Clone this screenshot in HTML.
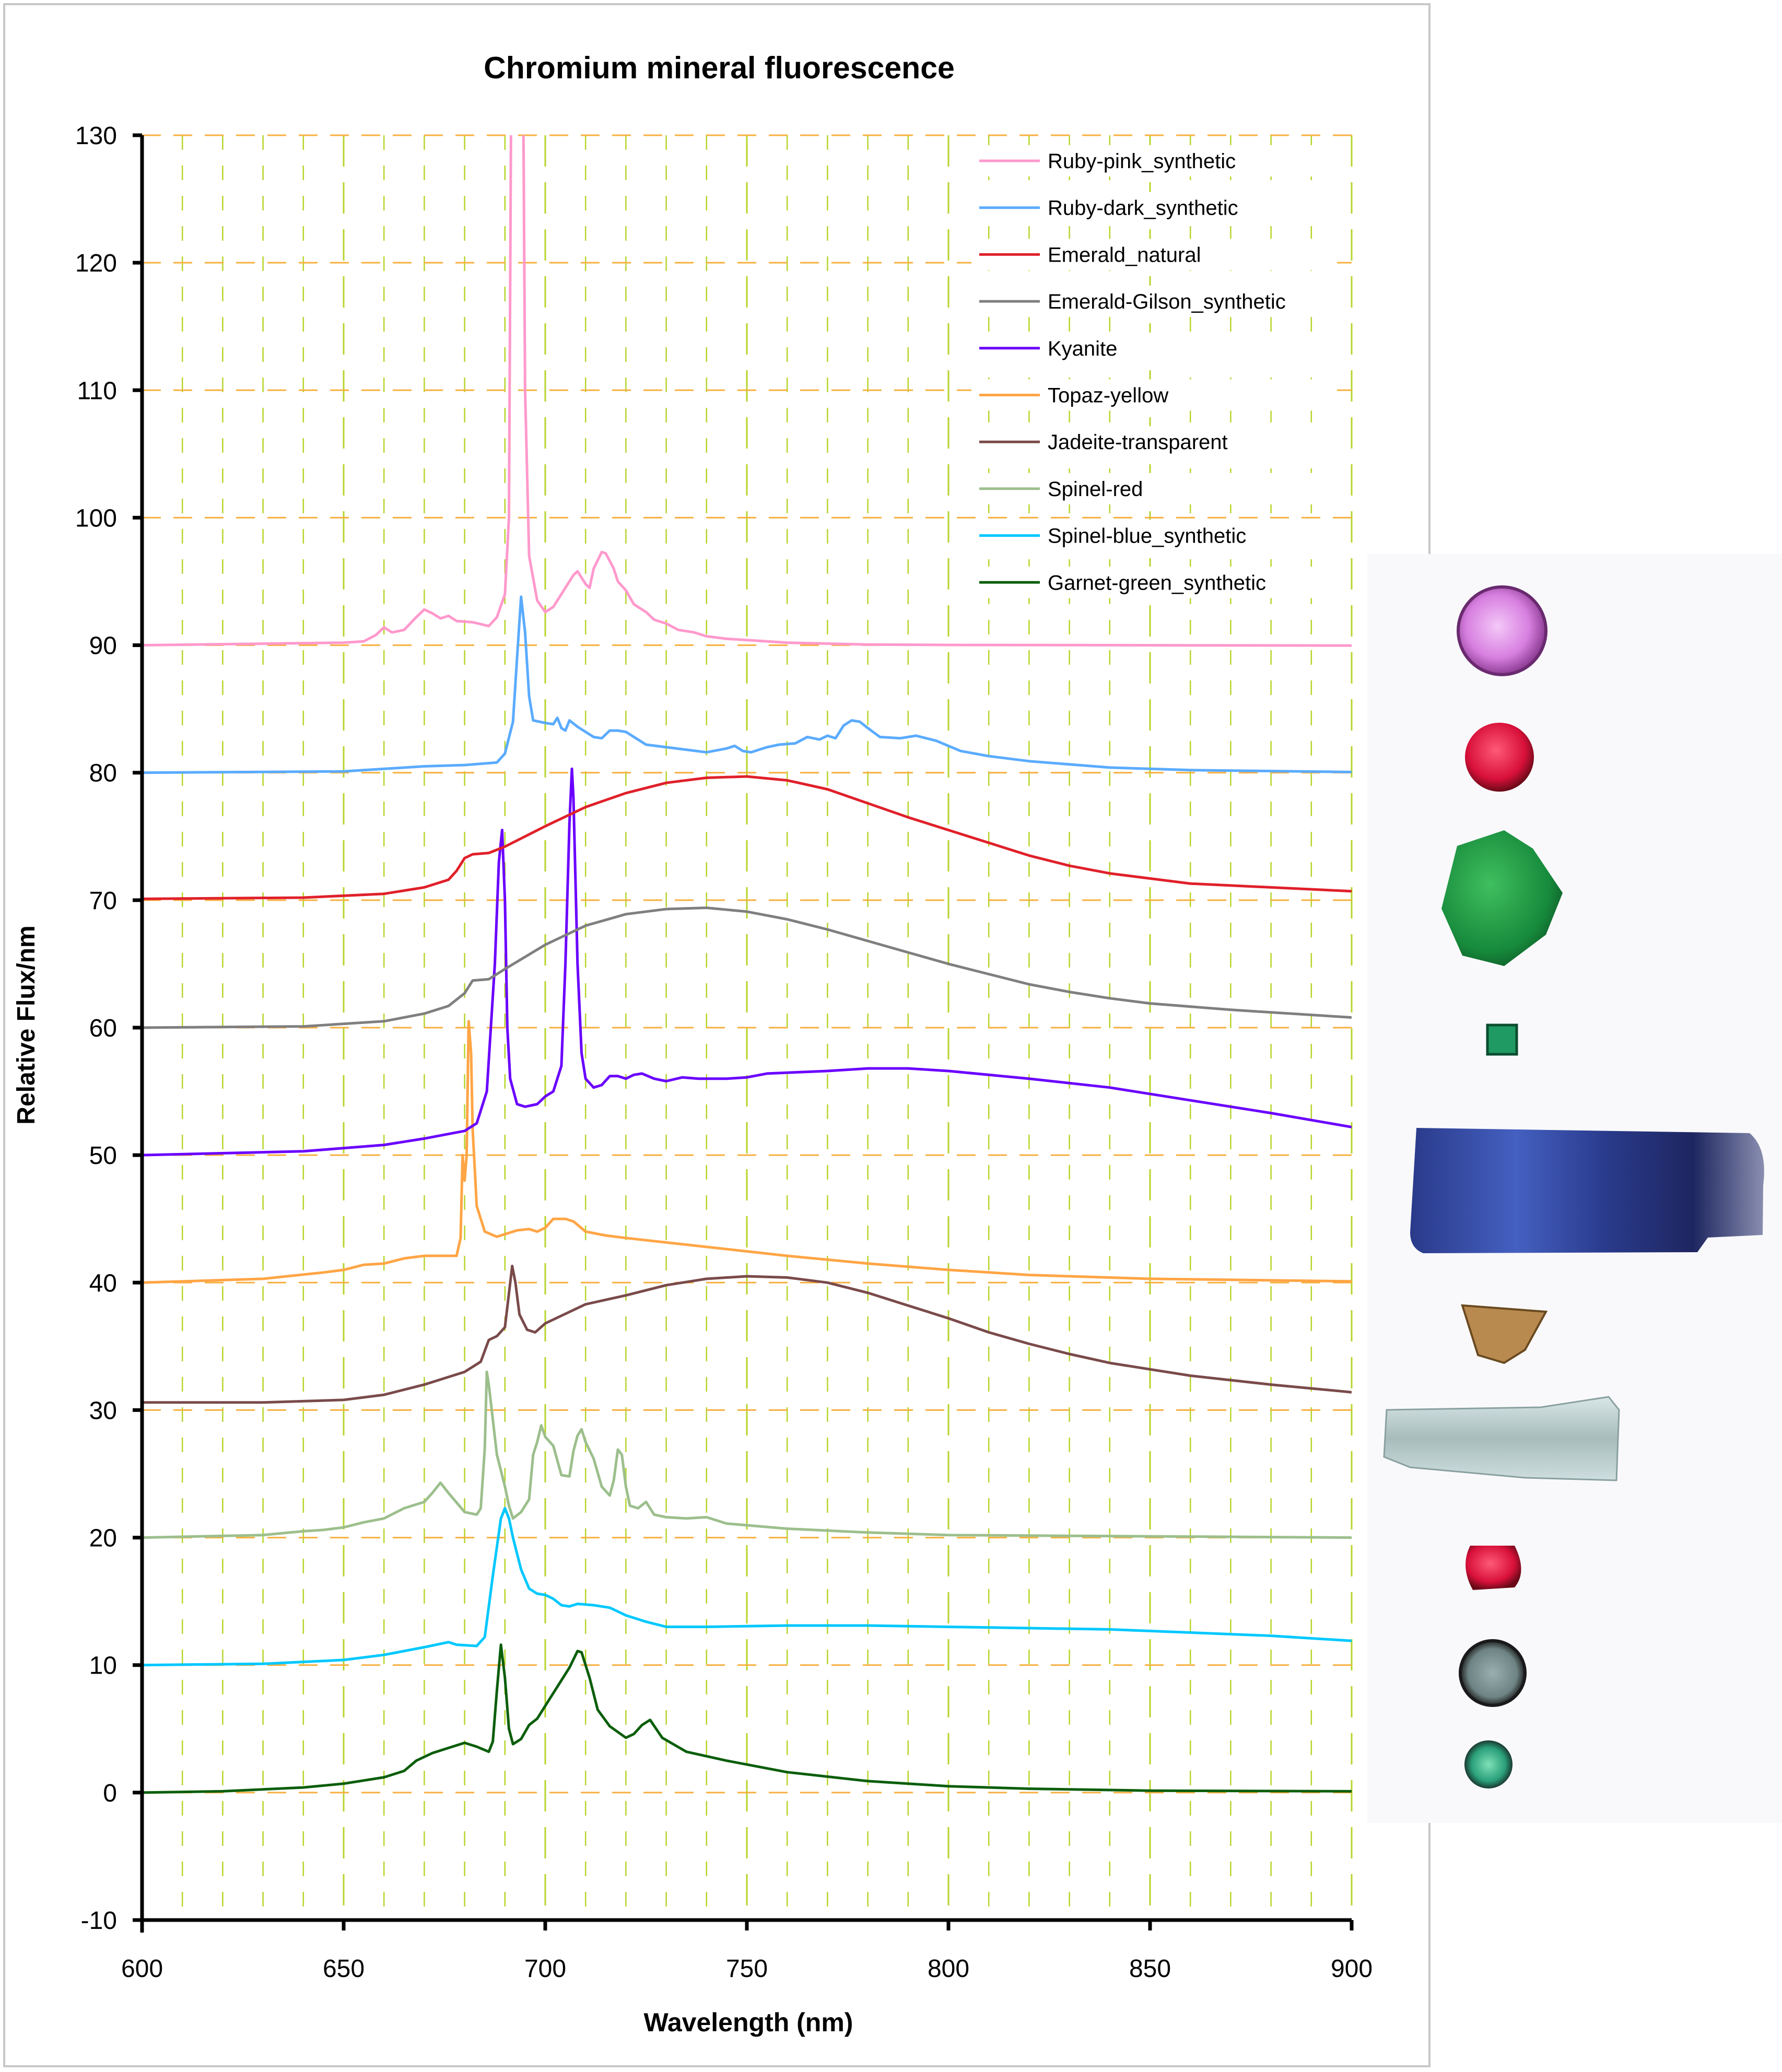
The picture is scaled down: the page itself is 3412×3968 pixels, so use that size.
<!DOCTYPE html>
<html><head><meta charset="utf-8"><style>
html,body{margin:0;padding:0;background:#fff;}
svg{display:block;font-family:"Liberation Sans","DejaVu Sans",sans-serif;}
</style></head><body>
<svg id="chart" width="3412" height="3968" viewBox="0 0 3412 3968" xmlns="http://www.w3.org/2000/svg">
<defs>
<clipPath id="plotclip"><rect x="272" y="259" width="2316" height="3418"/></clipPath>
<radialGradient id="gPink" cx="0.45" cy="0.45" r="0.6"><stop offset="0" stop-color="#f4c8f8"/><stop offset="0.6" stop-color="#d77fe0"/><stop offset="1" stop-color="#7a2c80"/></radialGradient>
<radialGradient id="gRed" cx="0.45" cy="0.4" r="0.6"><stop offset="0" stop-color="#ff5a78"/><stop offset="0.7" stop-color="#d8103a"/><stop offset="1" stop-color="#6a0a18"/></radialGradient>
<radialGradient id="gGreen" cx="0.4" cy="0.4" r="0.7"><stop offset="0" stop-color="#3fbf5e"/><stop offset="0.7" stop-color="#178a3c"/><stop offset="1" stop-color="#0b4f22"/></radialGradient>
<linearGradient id="gKy" x1="0" y1="0" x2="1" y2="0"><stop offset="0" stop-color="#2a3a8a"/><stop offset="0.3" stop-color="#4460c0"/><stop offset="0.55" stop-color="#2a3b8c"/><stop offset="0.8" stop-color="#1e2660"/><stop offset="1" stop-color="#8a8fb0"/></linearGradient>
<linearGradient id="gAq" x1="0" y1="0" x2="0" y2="1"><stop offset="0" stop-color="#d8e6e6"/><stop offset="0.5" stop-color="#a8bcbc"/><stop offset="1" stop-color="#cfdede"/></linearGradient>
<radialGradient id="gGray" cx="0.5" cy="0.5" r="0.5"><stop offset="0" stop-color="#9ab0b0"/><stop offset="0.75" stop-color="#6e8484"/><stop offset="1" stop-color="#222"/></radialGradient>
<radialGradient id="gTeal" cx="0.5" cy="0.5" r="0.5"><stop offset="0" stop-color="#7fe0b8"/><stop offset="0.7" stop-color="#2aa07a"/><stop offset="1" stop-color="#1a3a30"/></radialGradient>
</defs>
<rect x="8" y="8" width="2729" height="3949" fill="#fff" stroke="#c8c8c8" stroke-width="4"/>
<text x="1377" y="150" text-anchor="middle" font-size="59" font-weight="bold">Chromium mineral fluorescence</text>
<g id="grid"></g>
<g id="series" clip-path="url(#plotclip)"></g>
<g id="axes"></g>
<text x="66" y="1963" text-anchor="middle" font-size="48" font-weight="bold" transform="rotate(-90 66 1963)">Relative Flux/nm</text>
<text x="1433" y="3890" text-anchor="middle" font-size="50" font-weight="bold">Wavelength (nm)</text>
<g id="legend"></g>
<g>
<rect x="2618" y="1061" width="794" height="2430" fill="#f9f9fb"/>
<circle cx="2876" cy="1208" r="84" fill="url(#gPink)" stroke="#6a2a70" stroke-width="6"/>
<circle cx="2871" cy="1450" r="66" fill="url(#gRed)"/>
<polygon points="2790,1620 2880,1590 2935,1625 2992,1710 2960,1790 2880,1850 2800,1830 2760,1740" fill="url(#gGreen)"/>
<rect x="2848" y="1963" width="56" height="56" fill="#1f9a62" stroke="#0c4d30" stroke-width="5"/>
<path d="M2712,2160 L3350,2170 Q3385,2200 3376,2270 L3375,2365 L3270,2370 L3250,2398 L2725,2400 Q2700,2390 2700,2360 Z" fill="url(#gKy)"/>
<polygon points="2800,2500 2960,2512 2920,2585 2880,2610 2830,2595" fill="#b88a50" stroke="#6a4a20" stroke-width="4"/>
<polygon points="2655,2700 2950,2695 3080,2675 3100,2700 3095,2835 2920,2830 2700,2810 2650,2790" fill="url(#gAq)" stroke="#8aa0a0" stroke-width="3"/>
<path d="M2900,2960 Q2925,3010 2900,3040 L2820,3045 Q2795,3000 2815,2960 Z" fill="url(#gRed)"/>
<circle cx="2858" cy="3204" r="62" fill="url(#gGray)" stroke="#1a1a1a" stroke-width="6"/>
<circle cx="2850" cy="3379" r="46" fill="url(#gTeal)"/>
</g>
</svg>
<script>
// ---- chart data ----
const seriesNames = ["Ruby-pink_synthetic","Ruby-dark_synthetic","Emerald_natural","Emerald-Gilson_synthetic","Kyanite","Topaz-yellow","Jadeite-transparent","Spinel-red","Spinel-blue_synthetic","Garnet-green_synthetic"];
const seriesColors = ["#ff99cc","#5aabff","#e0202a","#7f7f7f","#6a00ff","#ffa545","#7a4a4a","#9cbf8c","#00c8ff","#0b5e0b"];
const yTicks = [-10,0,10,20,30,40,50,60,70,80,90,100,110,120,130];
const xTicks = [600,650,700,750,800,850,900];

const rubyPinkX = [600,650,655,658,660,662,665,668,670,672,674,676,678,682,686,688,690,691,692,694,695,696,698,700,702,705,707,708,710,711,712,714,715,717,718,720,722,725,727,730,733,737,740,745,750,760,780,800,900];
const rubyPinkY = [90,90.2,90.3,90.8,91.4,91.0,91.2,92.2,92.8,92.5,92.1,92.3,91.9,91.8,91.5,92.2,94,100,160,160,110,97,93.5,92.6,93,94.5,95.5,95.8,94.8,94.5,96,97.3,97.2,96,95,94.3,93.2,92.6,92,91.7,91.2,91,90.7,90.5,90.4,90.2,90.05,90.02,89.97];

const rubyDarkX = [600,650,660,670,680,688,690,692,693,694,695,696,697,700,702,703,704,705,706,708,712,714,716,718,720,722,725,730,740,745,747,749,751,755,758,762,765,768,770,772,774,776,778,780,783,788,792,797,803,810,820,840,860,900];
const rubyDarkY = [80,80.1,80.3,80.5,80.6,80.8,81.5,84,89,93.8,91,86,84.1,83.9,83.8,84.3,83.5,83.3,84.1,83.6,82.8,82.7,83.3,83.3,83.2,82.8,82.2,82.0,81.6,81.9,82.1,81.7,81.6,82.0,82.2,82.3,82.8,82.6,82.9,82.7,83.7,84.1,84.0,83.5,82.8,82.7,82.9,82.5,81.7,81.3,80.9,80.4,80.2,80.05];

const emeraldX = [600,640,660,670,676,678,680,682,686,690,700,710,720,730,740,750,760,770,780,790,800,810,820,830,840,850,860,880,900];
const emeraldY = [70.1,70.2,70.5,71,71.6,72.3,73.3,73.6,73.7,74.2,75.8,77.3,78.4,79.2,79.6,79.7,79.4,78.7,77.6,76.5,75.5,74.5,73.5,72.7,72.1,71.7,71.3,71.0,70.7];

const gilsonX = [600,640,660,670,676,678,680,682,686,690,700,710,720,730,740,750,760,770,780,790,800,810,820,830,840,850,870,900];
const gilsonY = [60,60.1,60.5,61.1,61.7,62.2,62.7,63.7,63.8,64.6,66.5,68.0,68.9,69.3,69.4,69.1,68.5,67.7,66.8,65.9,65.0,64.2,63.4,62.8,62.3,61.9,61.4,60.8];

const kyaniteX = [600,640,660,670,675,680,683,685.5,687.5,688.5,689.3,690,690.6,691.3,693,695,698,700,702,704,705,706,706.6,707,708,709,710,712,714,716,718,720,722,724,727,730,734,738,745,750,755,770,780,790,800,820,840,860,880,900];
const kyaniteY = [50,50.3,50.8,51.3,51.6,51.9,52.5,55,65,73,75.5,70,60,56,54,53.8,54,54.6,55,57,65,76,80.3,78,65,58,56,55.3,55.5,56.2,56.2,56.0,56.3,56.4,56.0,55.8,56.1,56.0,56.0,56.1,56.4,56.6,56.8,56.8,56.6,56.0,55.3,54.3,53.3,52.2];

const topazX = [600,630,645,650,655,660,665,670,678,679,679.5,680,680.5,681,681.6,682,683,685,688,690,693,696,698,700,702,705,707,710,715,720,740,760,780,800,820,850,900];
const topazY = [40,40.3,40.8,41.0,41.4,41.5,41.9,42.1,42.1,43.5,50,48,50,60.5,58,52,46,44,43.6,43.8,44.1,44.2,44.0,44.3,45.0,45.0,44.8,44.0,43.7,43.5,42.8,42.1,41.5,41.0,40.6,40.3,40.1];

const jadeiteX = [600,630,650,660,670,680,684,686,688,690,691.8,692.6,693.6,695.5,697.5,700,710,720,730,740,750,760,770,780,790,800,810,820,830,840,850,860,880,900];
const jadeiteY = [30.6,30.6,30.8,31.2,32,33,33.8,35.5,35.8,36.5,41.3,40,37.5,36.3,36.1,36.8,38.3,39.0,39.8,40.3,40.5,40.4,40.0,39.2,38.2,37.2,36.1,35.2,34.4,33.7,33.2,32.7,32.0,31.4];

const spinelRedX = [600,630,640,645,650,655,660,665,670,672,674,676,680,683,684,685,685.5,686,688,690,691,692,694,696,697,698,699,700,702,704,706,707,708,709,710,712,714,716,717,718,719,720,721,723,725,727,730,735,740,745,760,780,800,900];
const spinelRedY = [20,20.2,20.5,20.6,20.8,21.2,21.5,22.3,22.8,23.5,24.3,23.5,22,21.8,22.3,27,33,32,26.5,24.0,22.5,21.5,22.0,23.0,26.5,27.5,28.8,27.9,27.2,24.9,24.8,26.8,28.0,28.5,27.5,26.2,24.0,23.3,24.5,26.9,26.5,24.0,22.5,22.3,22.8,21.8,21.6,21.5,21.6,21.1,20.7,20.4,20.2,20.0];

const spinelBlueX = [600,630,650,660,670,676,678,683,685,687,689,690,691,692,694,696,698,700,702,704,706,708,712,716,720,725,730,740,760,780,800,840,880,900];
const spinelBlueY = [10,10.1,10.4,10.8,11.4,11.8,11.6,11.5,12.2,17,21.5,22.3,21.5,20,17.5,16,15.6,15.5,15.2,14.7,14.6,14.8,14.7,14.5,13.9,13.4,13.0,13.0,13.1,13.1,13.0,12.8,12.3,11.9];

const garnetX = [600,620,640,650,660,665,668,672,676,680,683,686,687,688,689,690,691,692,694,696,698,700,702,704,706,708,709,711,713,716,720,722,724,726,729,735,745,760,780,800,820,850,900];
const garnetY = [0,0.1,0.4,0.7,1.2,1.7,2.5,3.1,3.5,3.9,3.6,3.2,4,8,11.6,9,5,3.8,4.2,5.3,5.8,6.8,7.8,8.8,9.8,11.1,11.0,9,6.5,5.2,4.3,4.6,5.3,5.7,4.3,3.2,2.5,1.6,0.9,0.5,0.3,0.15,0.1];

const seriesX = [rubyPinkX,rubyDarkX,emeraldX,gilsonX,kyaniteX,topazX,jadeiteX,spinelRedX,spinelBlueX,garnetX];
const seriesY = [rubyPinkY,rubyDarkY,emeraldY,gilsonY,kyaniteY,topazY,jadeiteY,spinelRedY,spinelBlueY,garnetY];

// ---- axis functions ----
const X0=272, X1=2588, Y0=3677, Y1=259;
function xs(v){return X0+(v-600)/(900-600)*(X1-X0);}
function ys(v){return Y0-(v-(-10))/(130-(-10))*(Y0-Y1);}
const NS="http://www.w3.org/2000/svg";
function mk(tag,attrs,parent){const e=document.createElementNS(NS,tag);for(const k in attrs)e.setAttribute(k,attrs[k]);parent.appendChild(e);return e;}

const grid=document.getElementById('grid');
for(let w=610;w<=900;w+=10){
  const major=(w%50===0);
  const l=mk('line',{x1:xs(w),x2:xs(w),y1:Y1,y2:Y0,stroke:'#b5d52a','stroke-width':major?3:2.5,'stroke-dasharray':major?'60,30':'28,30'},grid);
  
  
}
yTicks.forEach(t=>{
  if(t===-10)return;
  const l=mk('line',{x1:X0,x2:X1,y1:ys(t),y2:ys(t),stroke:'#f7b040','stroke-width':3,'stroke-dasharray':'36,24'},grid);
  
  
});

const sg=document.getElementById('series');
for(let i=seriesX.length-1;i>=0;i--){
  const pts=seriesX[i].map((x,j)=>xs(x).toFixed(1)+','+ys(seriesY[i][j]).toFixed(1)).join(' ');
  const p=mk('polyline',{points:pts,fill:'none',stroke:seriesColors[i],'stroke-width':5,'stroke-linejoin':'round'},sg);
  
  
}

const ax=document.getElementById('axes');
const ya=mk('line',{x1:X0,x2:X0,y1:Y1,y2:Y0+24,stroke:'#000','stroke-width':7},ax);


const xa=mk('line',{x1:X0-18,x2:X1,y1:Y0,y2:Y0,stroke:'#000','stroke-width':7},ax);


yTicks.forEach(t=>{
  const tk=mk('line',{x1:X0-18,x2:X0,y1:ys(t),y2:ys(t),stroke:'#000','stroke-width':7},ax);
  
  
  const tx=mk('text',{x:224,y:ys(t)+17,'text-anchor':'end','font-size':48},ax);
  tx.textContent=String(t);
  
  
});
xTicks.forEach(t=>{
  const tk=mk('line',{x1:xs(t),x2:xs(t),y1:Y0,y2:Y0+20,stroke:'#000','stroke-width':7},ax);
  
  
  const tx=mk('text',{x:xs(t),y:3786,'text-anchor':'middle','font-size':48},ax);
  tx.textContent=String(t);
  
  
});

const lg=document.getElementById('legend');
seriesNames.forEach((n,i)=>{
  const y=308+89.7*i;
  const bg=mk('rect',{x:1860,y:y-30,width:700,height:60,fill:'#fff'},lg);
  
  
  const l=mk('line',{x1:1875,x2:1991,y1:y,y2:y,stroke:seriesColors[i],'stroke-width':5},lg);
  
  
  const t=mk('text',{x:2006,y:y+14,'font-size':40},lg);
  t.textContent=n;
  
  
});
</script>
</body></html>
